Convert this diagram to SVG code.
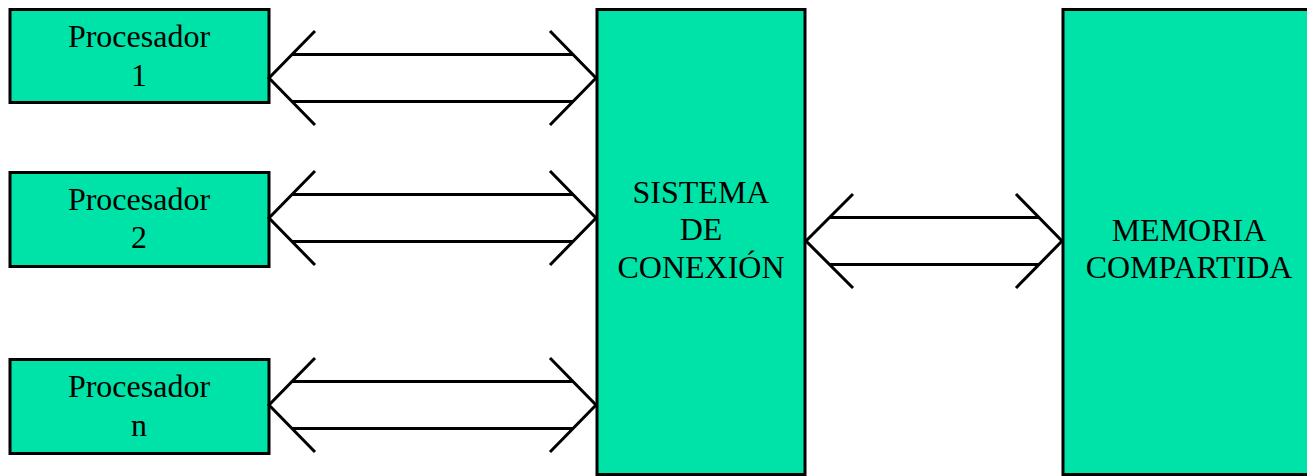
<svg xmlns="http://www.w3.org/2000/svg" width="1307" height="476" viewBox="0 0 1307 476">
<style>
.box{fill:#00E3A8;stroke:#000;stroke-width:3}
.lbl{font-family:"Liberation Serif","Times New Roman",serif;font-size:32px;fill:#000;text-anchor:middle}
.arr{fill:none;stroke:#000;stroke-width:3}
</style>
<rect width="1307" height="476" fill="#fff"/>
<g id="proc1">
<rect class="box" x="10" y="9.5" width="259" height="93"/>
<text class="lbl" x="139" y="47">Procesador</text>
<text class="lbl" x="139" y="86">1</text>
</g>
<g id="proc2">
<rect class="box" x="10" y="172.5" width="259" height="94"/>
<text class="lbl" x="139" y="210">Procesador</text>
<text class="lbl" x="139" y="248">2</text>
</g>
<g id="procn">
<rect class="box" x="10" y="359.5" width="259" height="94"/>
<text class="lbl" x="139" y="397">Procesador</text>
<text class="lbl" x="139" y="436">n</text>
</g>
<g id="sistema">
<rect class="box" x="597" y="9.5" width="208" height="465"/>
<text class="lbl" x="701" y="203">SISTEMA</text>
<text class="lbl" x="701" y="240">DE</text>
<text class="lbl" x="701" y="278">CONEXIÓN</text>
</g>
<g id="memoria">
<rect class="box" x="1063" y="9.5" width="260" height="465"/>
<text class="lbl" x="1189" y="241">MEMORIA</text>
<text class="lbl" x="1189" y="278">COMPARTIDA</text>
</g>
<g id="connectors" class="arr">
<path d="M315,31 L269,78 L315,125 M550,31 L596,78 L550,125 M292.5,54.5 H572.5 M292.5,101.5 H572.5"/>
<path d="M315,171 L269,218 L315,265 M550,171 L596,218 L550,265 M292.5,194.5 H572.5 M292.5,241.5 H572.5"/>
<path d="M315,358 L269,405 L315,452 M550,358 L596,405 L550,452 M292.5,381.5 H572.5 M292.5,428.5 H572.5"/>
<path d="M853,194 L806,241 L853,288 M1016,194 L1062,241 L1016,288 M829.5,217.5 H1038.5 M829.5,264.5 H1038.5"/>
</g>
</svg>
